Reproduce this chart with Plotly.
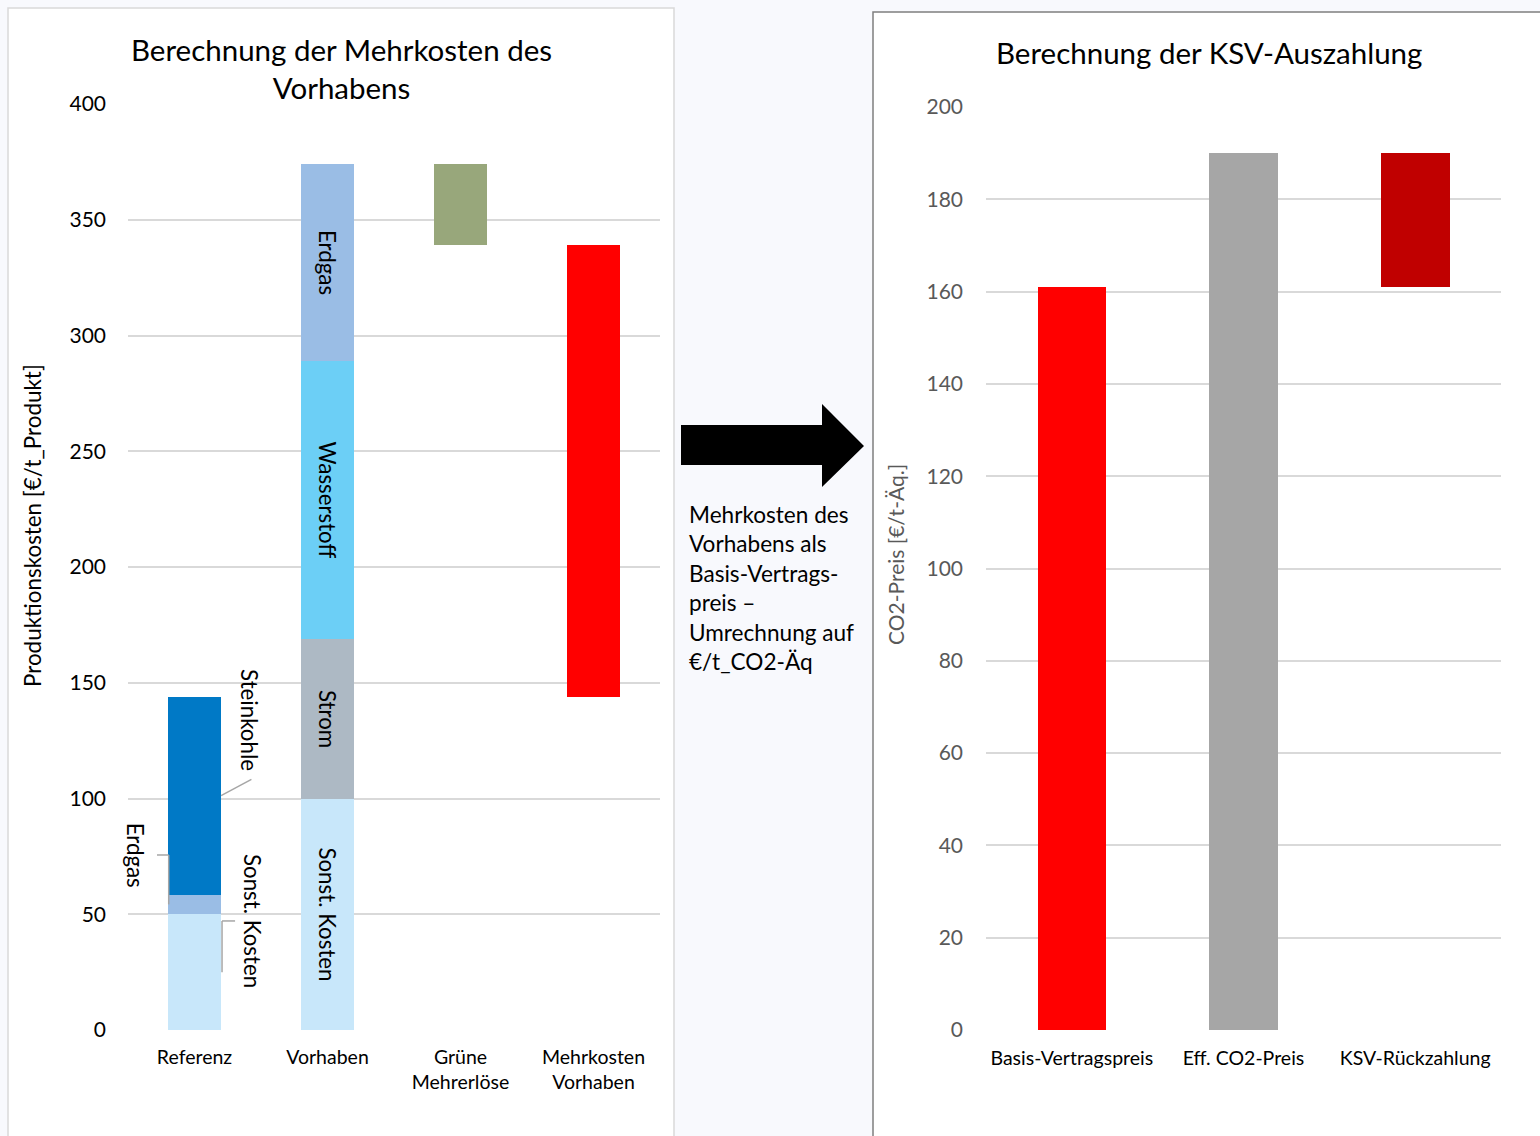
import plotly.graph_objects as go

# ---- data: production costs (€/t product) ----
cost_categories = ["Referenz", "Vorhaben", "Grüne Mehrerlöse", "Mehrkosten Vorhaben"]
cost_ticktext = ["Referenz", "Vorhaben", "Grüne<br>Mehrerlöse", "Mehrkosten<br>Vorhaben"]

referenz_parts = ["Sonst. Kosten", "Erdgas", "Steinkohle"]
referenz_values = [50, 8.5, 85.5]

vorhaben_parts = ["Sonst. Kosten", "Strom", "Wasserstoff", "Erdgas"]
vorhaben_values = [100, 69, 120, 85]

gruene_mehrerloese = 35

# ---- data: CO2 price (€/t-Äq.) ----
ksv_categories = ["Basis-Vertragspreis", "Eff. CO2-Preis", "KSV-Rückzahlung"]
basis_vertragspreis = 161
eff_co2_preis = 190

# ---- styling ----
FONT = "Lato"
W, H = 1540, 1136
part_colors = {
    "Sonst. Kosten": "#c8e7fa",
    "Erdgas": "#9abde5",
    "Steinkohle": "#0079c6",
    "Strom": "#adb9c4",
    "Wasserstoff": "#6ccff6",
}
GRID = "#d9d9d9"


def px_x(p):
    return p / W


def px_y(p):
    return 1 - p / H


fig = go.Figure()
BAR_W = 0.4

# Referenz stack
base = 0
ref_mid = {}
for name, val in zip(referenz_parts, referenz_values):
    fig.add_trace(go.Bar(x=[0], y=[val], base=[base], width=BAR_W,
                         marker=dict(color=part_colors[name], line=dict(width=0)),
                         name=name, showlegend=False, xaxis="x", yaxis="y"))
    ref_mid[name] = base + val / 2
    base += val
referenz_total = base

# Vorhaben stack with inside rotated labels
base = 0
for name, val in zip(vorhaben_parts, vorhaben_values):
    fig.add_trace(go.Bar(x=[1], y=[val], base=[base], width=BAR_W,
                         marker=dict(color=part_colors[name], line=dict(width=0)),
                         text=[name], textposition="inside", insidetextanchor="middle",
                         textangle=90, constraintext="none",
                         textfont=dict(family=FONT, size=22.3, color="#000000"),
                         name=name, showlegend=False, xaxis="x", yaxis="y"))
    base += val
vorhaben_total = base

# Green extra revenues (floating, hanging from the Vorhaben total)
fig.add_trace(go.Bar(x=[2], y=[gruene_mehrerloese], base=[vorhaben_total - gruene_mehrerloese],
                     width=BAR_W, marker=dict(color="#98a77b", line=dict(width=0)),
                     showlegend=False, xaxis="x", yaxis="y"))

# Additional costs of the project
mehrkosten = vorhaben_total - gruene_mehrerloese - referenz_total
fig.add_trace(go.Bar(x=[3], y=[mehrkosten], base=[referenz_total], width=BAR_W,
                     marker=dict(color="#ff0000", line=dict(width=0)),
                     showlegend=False, xaxis="x", yaxis="y"))

# Right chart: CO2 prices
ksv_rueckzahlung = eff_co2_preis - basis_vertragspreis
fig.add_trace(go.Bar(x=[0, 1, 2], y=[basis_vertragspreis, eff_co2_preis, ksv_rueckzahlung],
                     base=[0, 0, basis_vertragspreis], width=BAR_W,
                     marker=dict(color=["#ff0000", "#a6a6a6", "#c00000"], line=dict(width=0)),
                     showlegend=False, xaxis="x2", yaxis="y2"))

# ---- panel frames and arrow ----
shapes = [
    dict(type="rect", xref="paper", yref="paper", x0=px_x(8), x1=px_x(674), y0=-0.05, y1=px_y(8),
         fillcolor="white", line=dict(color="#d9d9d9", width=1.5), layer="below"),
    dict(type="rect", xref="paper", yref="paper", x0=px_x(873), x1=1.05, y0=-0.05, y1=px_y(12),
         fillcolor="white", line=dict(color="#7f7f7f", width=1.5), layer="below"),
]
arrow_pts = [(681, 425), (822, 425), (822, 404), (864, 446), (822, 487), (822, 465), (681, 465)]
path = "M " + " L ".join(f"{px_x(a):.5f},{px_y(b):.5f}" for a, b in arrow_pts) + " Z"
shapes.append(dict(type="path", xref="paper", yref="paper", path=path,
                   fillcolor="#000000", line=dict(width=0)))

# Leader lines for the Referenz labels (start at segment midpoints on the bar edge)
LEAD = dict(color="#a6a6a6", width=1.5)
edge_r = BAR_W / 2
shapes += [
    dict(type="line", xref="x", yref="y", x0=edge_r, y0=ref_mid["Steinkohle"], x1=0.428, y1=108.3, line=LEAD),
    dict(type="line", xref="x", yref="y", x0=-0.282, y0=75.6, x1=-0.194, y1=75.6, line=LEAD),
    dict(type="line", xref="x", yref="y", x0=-0.194, y0=75.6, x1=-0.194, y1=ref_mid["Erdgas"], line=LEAD),
    dict(type="line", xref="x", yref="y", x0=0.207, y0=47.1, x1=0.305, y1=47.1, line=LEAD),
    dict(type="line", xref="x", yref="y", x0=0.207, y0=47.1, x1=0.207, y1=ref_mid["Sonst. Kosten"], line=LEAD),
]

lbl = dict(family=FONT, size=22.3, color="#000000")
C = dict(xanchor="center", yanchor="middle", showarrow=False)
annotations = [
    dict(text="Steinkohle", x=0.417, y=133.9, xref="x", yref="y", textangle=90, font=lbl, **C),
    dict(text="Erdgas", x=-0.445, y=75.6, xref="x", yref="y", textangle=90, font=lbl, **C),
    dict(text="Sonst. Kosten", x=0.432, y=47.1, xref="x", yref="y", textangle=90, font=lbl, **C),
    dict(text="Berechnung der Mehrkosten des<br>Vorhabens", x=px_x(341), y=px_y(68.5), xref="paper", yref="paper",
         font=dict(family=FONT, size=29.5, color="#000000"), **C),
    dict(text="Berechnung der KSV-Auszahlung", x=px_x(1209), y=px_y(52), xref="paper", yref="paper",
         font=dict(family=FONT, size=29.5, color="#000000"), **C),
    dict(text="Mehrkosten des<br>Vorhabens als<br>Basis-Vertrags-<br>preis –<br>Umrechnung auf<br>€/t_CO2-Äq",
         x=px_x(687), y=px_y(588), xref="paper", yref="paper", xanchor="left", yanchor="middle",
         align="left", showarrow=False, font=dict(family=FONT, size=22.6, color="#000000")),
    dict(text="Produktionskosten [€/t_Produkt]", x=px_x(32), y=px_y(526), xref="paper", yref="paper",
         textangle=-90, font=dict(family=FONT, size=22.4, color="#000000"), **C),
    dict(text="CO2-Preis [€/t-Äq.]", x=px_x(895), y=px_y(555), xref="paper", yref="paper",
         textangle=-90, font=dict(family=FONT, size=21, color="#595959"), **C),
]

fig.update_layout(
    width=W, height=H, autosize=False,
    margin=dict(l=0, r=0, t=0, b=0, pad=0, autoexpand=False),
    paper_bgcolor="#f8f9fd", plot_bgcolor="rgba(0,0,0,0)",
    barmode="overlay", bargap=0, showlegend=False,
    shapes=shapes, annotations=annotations,
    xaxis=dict(domain=[px_x(128), px_x(660)], range=[-0.5, 3.5], anchor="y",
               tickvals=list(range(len(cost_categories))), ticktext=cost_ticktext,
               showgrid=False, zeroline=False, showline=False, ticks="", automargin=False,
               ticklabelstandoff=13, tickfont=dict(family=FONT, size=19.5, color="#000000")),
    yaxis=dict(domain=[px_y(1030), px_y(104)], range=[0, 400], anchor="x",
               tickvals=[0, 50, 100, 150, 200, 250, 300, 350, 400], automargin=False,
               showgrid=True, gridcolor=GRID, gridwidth=1.5, zeroline=False, showline=False, ticks="",
               ticklabelstandoff=21, tickfont=dict(family=FONT, size=21, color="#000000")),
    xaxis2=dict(domain=[px_x(986), px_x(1501)], range=[-0.5, 2.5], anchor="y2",
                tickvals=list(range(len(ksv_categories))), ticktext=ksv_categories,
                showgrid=False, zeroline=False, showline=False, ticks="", automargin=False,
                ticklabelstandoff=14, tickfont=dict(family=FONT, size=19.5, color="#000000")),
    yaxis2=dict(domain=[px_y(1030), px_y(107)], range=[0, 200], anchor="x2",
                tickvals=list(range(0, 201, 20)), automargin=False,
                showgrid=True, gridcolor=GRID, gridwidth=1.5, zeroline=False, showline=False, ticks="",
                ticklabelstandoff=22, tickfont=dict(family=FONT, size=21, color="#595959")),
)

fig.write_html("out.html")
